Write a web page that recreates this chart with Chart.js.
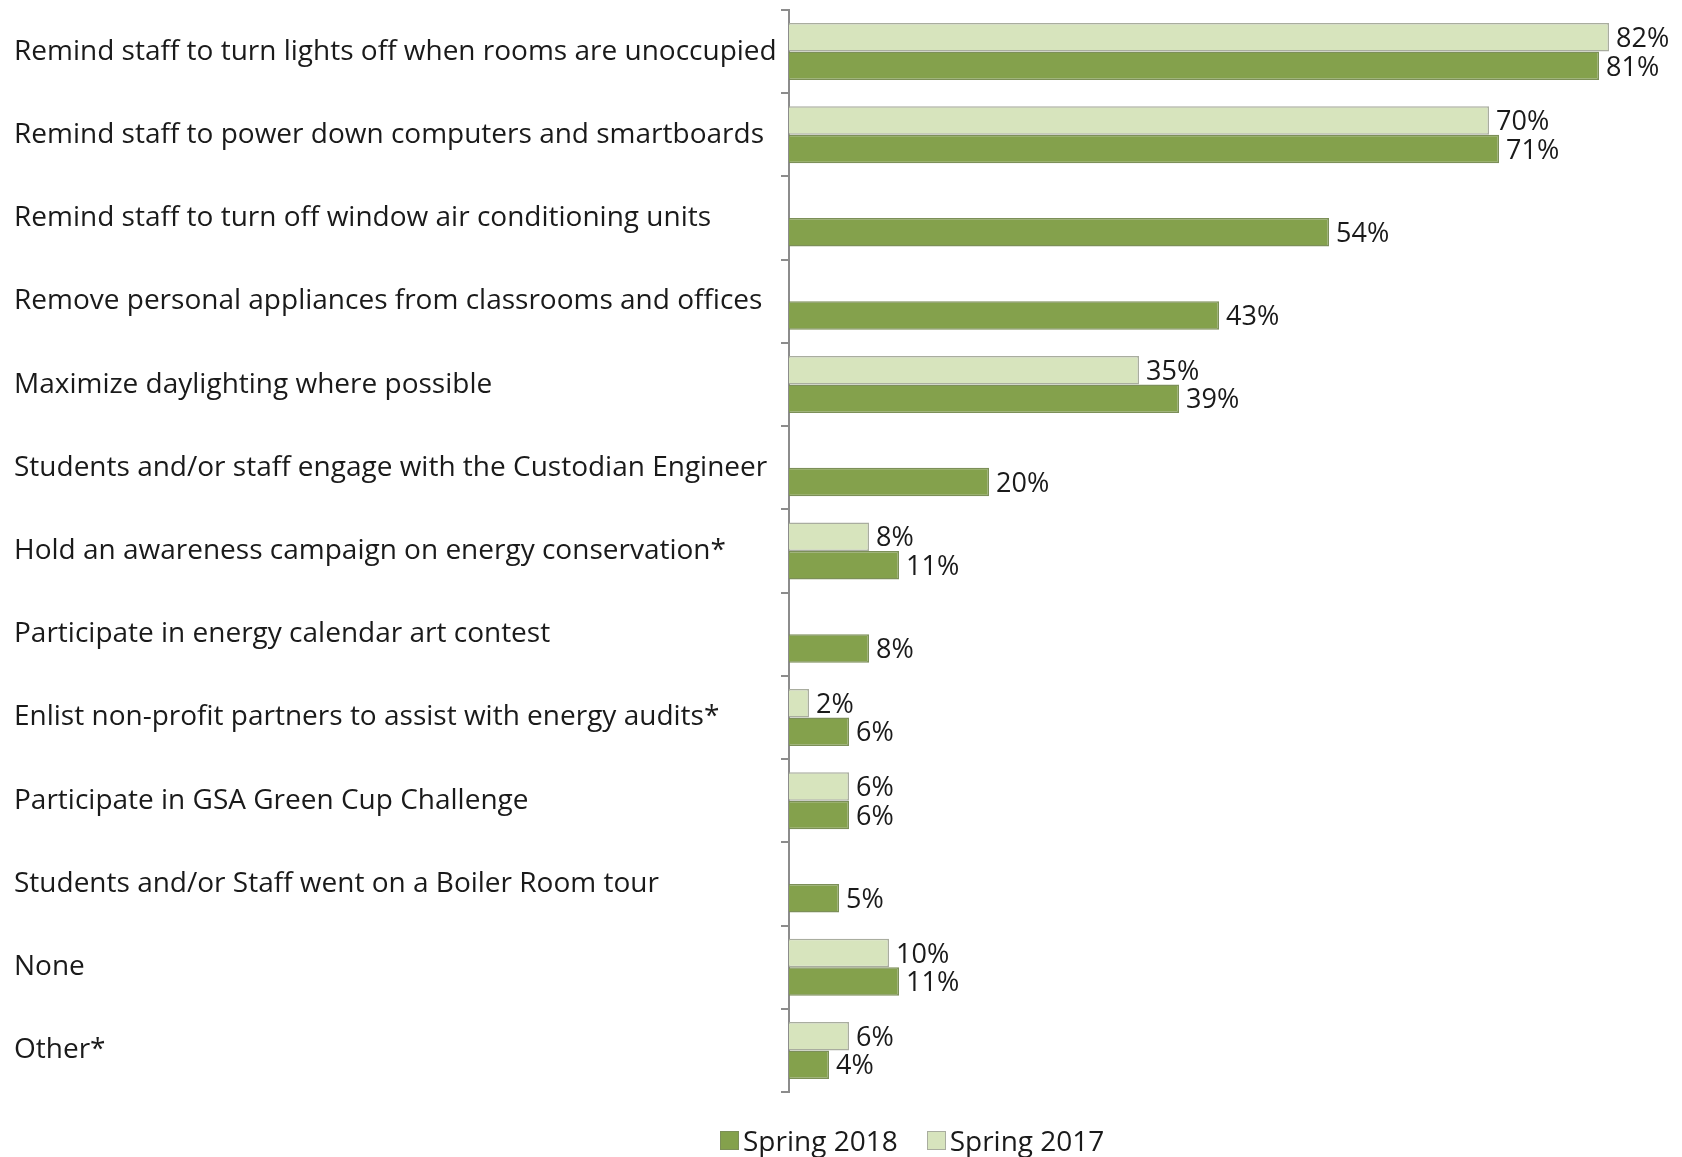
<!DOCTYPE html>
<html>
<head>
<meta charset="utf-8">
<script src="https://cdn.jsdelivr.net/npm/chart.js@4.4.1/dist/chart.umd.min.js"></script>
<style>
    body { margin: 0; background: #fff; }
    #contenedor { position: relative; width: 1682px; height: 1157px; }
    #leyenda {
        position: absolute; left: 720px; top: 1121px;
        display: flex; align-items: center;
        font-family: "Open Sans", sans-serif; font-size: 28px; color: #1a1a1a;
    }
    #leyenda .caja { width: 19px; height: 19px; margin-right: 4px; box-sizing: border-box; }
    #leyenda .item { display: flex; align-items: center; margin-right: 29px; }
</style>
</head>
<body>
<div id="contenedor">
    <canvas id="grafica-acciones" width="1682" height="1157"></canvas>
    <div id="leyenda"></div>
</div>
<script>
// Acciones de ahorro de energía por temporada (%)
const categorias = [
    'Remind staff to turn lights off when rooms are unoccupied',
    'Remind staff to power down computers and smartboards',
    'Remind staff to turn off window air conditioning units',
    'Remove personal appliances from classrooms and offices',
    'Maximize daylighting where possible',
    'Students and/or staff engage with the Custodian Engineer',
    'Hold an awareness campaign on energy conservation*',
    'Participate in energy calendar art contest',
    'Enlist non-profit partners to assist with energy audits*',
    'Participate in GSA Green Cup Challenge',
    'Students and/or Staff went on a Boiler Room tour',
    'None',
    'Other*'
];
const valores2018 = [81, 71, 54, 43, 39, 20, 11, 8, 6, 6, 5, 11, 4];
const valores2017 = [82, 70, null, null, 35, null, 8, null, 2, 6, null, 10, 6];

const verdeOscuro = '#84a14c';
const verdeClaro = '#d7e4bd';
const fuenteEjes = { family: '"Open Sans", sans-serif', size: 28 };
const fuenteValores = { family: '"Open Sans", sans-serif', size: 27 };

// Etiquetas de porcentaje al final de cada barra
const etiquetasBarras = {
    id: 'etiquetasBarras',
    afterDatasetsDraw(chart) {
        const ctx = chart.ctx;
        ctx.save();
        ctx.font = `${fuenteValores.size}px ${fuenteValores.family}`;
        ctx.fillStyle = '#1a1a1a';
        ctx.textBaseline = 'middle';
        ctx.textAlign = 'left';
        chart.data.datasets.forEach((ds, i) => {
            chart.getDatasetMeta(i).data.forEach((barra, j) => {
                if (ds.data[j] === null) return;
                ctx.fillText(ds.data[j] + '%', barra.x + 7, barra.y + 2);
            });
        });
        ctx.restore();
    }
};

const ctx = document.getElementById('grafica-acciones').getContext('2d');
const grafica = new Chart(ctx, {
    type: 'bar',
    data: {
        labels: categorias,
        datasets: [
            {
                label: 'Spring 2017',
                data: valores2017,
                backgroundColor: verdeClaro,
                borderColor: '#a9ad9f',
                borderWidth: 1.5
            },
            {
                label: 'Spring 2018',
                data: valores2018,
                backgroundColor: verdeOscuro,
                borderColor: '#7c8f58',
                borderWidth: 1.5
            }
        ]
    },
    options: {
        indexAxis: 'y',
        responsive: false,
        animation: false,
        categoryPercentage: 0.685,
        barPercentage: 1,
        layout: { padding: { left: 14, right: 3, top: 10, bottom: 65 } },
        plugins: {
            legend: { display: false },
            tooltip: { enabled: false }
        },
        scales: {
            x: { display: false, min: 0, max: 89 },
            y: {
                grid: {
                    drawOnChartArea: false,
                    drawTicks: true,
                    tickLength: 8,
                    color: '#8c8c8c',
                    lineWidth: 2
                },
                border: { display: true, color: '#8c8c8c', width: 2 },
                ticks: { crossAlign: 'far', padding: 12, font: fuenteEjes, color: '#1a1a1a' },
                afterFit: (escala) => {
                    escala.width = 775;
                    // las etiquetas van centradas en cada banda, no hace falta margen extra
                    escala.paddingTop = 0;
                    escala.paddingBottom = 0;
                }
            }
        }
    },
    plugins: [etiquetasBarras]
});

// Leyenda en HTML: Spring 2018 primero
const leyenda = document.getElementById('leyenda');
[grafica.data.datasets[1], grafica.data.datasets[0]].forEach(ds => {
    const item = document.createElement('div');
    item.className = 'item';
    const caja = document.createElement('span');
    caja.className = 'caja';
    caja.style.background = ds.backgroundColor;
    caja.style.border = '1px solid ' + ds.borderColor;
    item.appendChild(caja);
    item.appendChild(document.createTextNode(ds.label));
    leyenda.appendChild(item);
});
</script>
</body>
</html>
